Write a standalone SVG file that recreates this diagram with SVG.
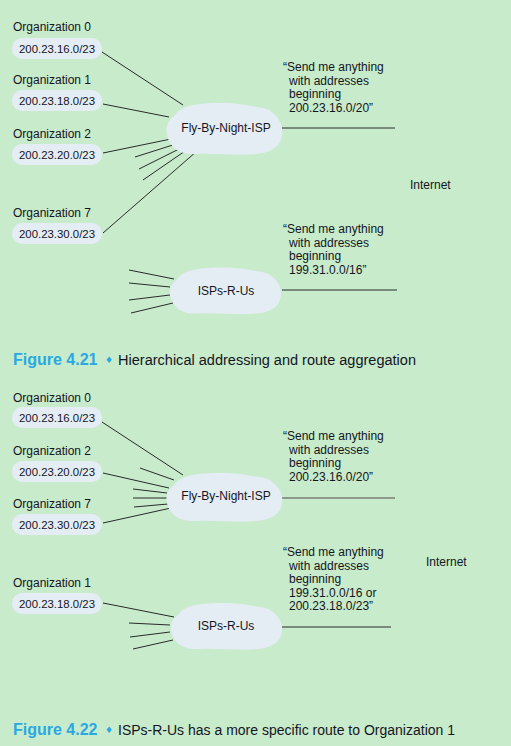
<svg xmlns="http://www.w3.org/2000/svg" width="511" height="746" viewBox="0 0 511 746">
<defs>
<style>
.t{font-family:"Liberation Sans",Arial,sans-serif;font-size:12px;fill:#15151f}
.p{font-family:"Liberation Sans",Arial,sans-serif;font-size:11.4px;fill:#15151f}
.q{font-family:"Liberation Sans",Arial,sans-serif;font-size:12px;fill:#15151f}
.pill{fill:#e4edf3}
.cloud{fill:#e4edf3}
.ln{stroke:#2a2a2a;stroke-width:1;fill:none}
.cap{font-family:"Liberation Sans",Arial,sans-serif;font-size:15.5px;fill:#15151f}
.fig{font-family:"Liberation Sans",Arial,sans-serif;font-size:16px;font-weight:bold;fill:#2aa8e2}
.dia{font-family:"DejaVu Sans",sans-serif;font-size:9px;fill:#2aa8e2}
</style>
<path id="cl" d="M -50,-14 C -44,-24 -25,-26 -5,-26 C 12,-26 22,-24 32,-22 C 40,-21 44,-20 48,-16 C 56,-9 58,-2 57,6 C 56,15 50,23 32,25 C 12,27 -10,24 -28,25 C -44,26 -55,20 -58,6 C -60,-4 -56,-9 -50,-14 Z"/>
</defs>
<rect width="511" height="746" fill="#c7ebcb"/>

<g id="connectors">
<line class="ln" x1="102" y1="52" x2="183" y2="105"/>
<line class="ln" x1="103" y1="104" x2="169" y2="117"/>
<line class="ln" x1="103" y1="153" x2="171" y2="139"/>
<line class="ln" x1="135" y1="157" x2="176" y2="144"/>
<line class="ln" x1="139" y1="169" x2="183" y2="147"/>
<line class="ln" x1="143" y1="180" x2="188" y2="149"/>
<line class="ln" x1="103" y1="233" x2="197" y2="151"/>
<line class="ln" x1="282" y1="128" x2="395" y2="128"/>
<line class="ln" x1="129" y1="270" x2="174" y2="279"/>
<line class="ln" x1="129" y1="283" x2="170" y2="287"/>
<line class="ln" x1="129" y1="300" x2="170" y2="295"/>
<line class="ln" x1="131" y1="313" x2="173" y2="303"/>
<line class="ln" x1="282" y1="290" x2="397" y2="290"/>

<line class="ln" x1="102" y1="422" x2="183" y2="475"/>
<line class="ln" x1="140" y1="468" x2="174" y2="480"/>
<line class="ln" x1="103" y1="473" x2="169" y2="488"/>
<line class="ln" x1="133" y1="489" x2="167" y2="493"/>
<line class="ln" x1="133" y1="498" x2="167" y2="498"/>
<line class="ln" x1="134" y1="507" x2="168" y2="504"/>
<line class="ln" x1="103" y1="523" x2="171" y2="508"/>
<line x1="282" y1="498" x2="395" y2="498" stroke="#8c9a8c" stroke-width="2"/>
<line class="ln" x1="103" y1="603" x2="174" y2="617"/>
<line class="ln" x1="129" y1="623" x2="170" y2="625"/>
<line class="ln" x1="130" y1="637" x2="170" y2="632"/>
<line class="ln" x1="133" y1="649" x2="173" y2="640"/>
<line class="ln" x1="282" y1="627" x2="391" y2="627"/>
</g>

<g id="org0-top">
<text class="t" x="13" y="31">Organization 0</text>
<rect class="pill" x="12" y="38" width="90" height="21" rx="10"/>
<text class="p" x="19" y="53">200.23.16.0/23</text>
</g>
<g id="org1-top">
<text class="t" x="13" y="84">Organization 1</text>
<rect class="pill" x="12" y="90" width="90" height="21" rx="10"/>
<text class="p" x="19" y="105">200.23.18.0/23</text>
</g>
<g id="org2-top">
<text class="t" x="13" y="138">Organization 2</text>
<rect class="pill" x="12" y="144" width="90" height="21" rx="10"/>
<text class="p" x="19" y="159">200.23.20.0/23</text>
</g>
<g id="org7-top">
<text class="t" x="13" y="217">Organization 7</text>
<rect class="pill" x="12" y="223" width="90" height="21" rx="10"/>
<text class="p" x="19" y="238">200.23.30.0/23</text>
</g>

<g id="fbn-top">
<use href="#cl" class="cloud" transform="translate(225,129)"/>
<text class="t" x="226" y="132" text-anchor="middle" font-size="11.5">Fly-By-Night-ISP</text>
</g>
<g id="isps-top">
<use href="#cl" class="cloud" transform="translate(226,291) scale(0.96,0.9)"/>
<text class="t" x="226" y="295" text-anchor="middle">ISPs-R-Us</text>
</g>

<g id="quote1-top">
<text class="q" x="283" y="71">“Send me anything</text>
<text class="q" x="289" y="84.5">with addresses</text>
<text class="q" x="289" y="98">beginning</text>
<text class="q" x="289" y="111.5">200.23.16.0/20”</text>
</g>
<g id="internet-top"><text class="t" x="410" y="189">Internet</text></g>
<g id="quote2-top">
<text class="q" x="283" y="233">“Send me anything</text>
<text class="q" x="289" y="246.5">with addresses</text>
<text class="q" x="289" y="260">beginning</text>
<text class="q" x="289" y="273.5">199.31.0.0/16”</text>
</g>

<g id="caption1">
<text class="fig" x="13" y="365">Figure 4.21</text>
<text class="dia" x="105" y="363">♦</text>
<text class="cap" x="118" y="365" textLength="298" lengthAdjust="spacingAndGlyphs">Hierarchical addressing and route aggregation</text>
</g>

<g id="org0-bot">
<text class="t" x="13" y="402">Organization 0</text>
<rect class="pill" x="12" y="407" width="90" height="21" rx="10"/>
<text class="p" x="19" y="422">200.23.16.0/23</text>
</g>
<g id="org2-bot">
<text class="t" x="13" y="455">Organization 2</text>
<rect class="pill" x="12" y="461" width="90" height="21" rx="10"/>
<text class="p" x="19" y="476">200.23.20.0/23</text>
</g>
<g id="org7-bot">
<text class="t" x="13" y="508">Organization 7</text>
<rect class="pill" x="12" y="514" width="90" height="21" rx="10"/>
<text class="p" x="19" y="529">200.23.30.0/23</text>
</g>
<g id="org1-bot">
<text class="t" x="13" y="587">Organization 1</text>
<rect class="pill" x="12" y="593" width="90" height="21" rx="10"/>
<text class="p" x="19" y="608">200.23.18.0/23</text>
</g>

<g id="fbn-bot">
<use href="#cl" class="cloud" transform="translate(225,497.5) scale(1,0.94)"/>
<text class="t" x="226" y="500" text-anchor="middle" font-size="11.5">Fly-By-Night-ISP</text>
</g>
<g id="isps-bot">
<use href="#cl" class="cloud" transform="translate(227,626.5) scale(0.96,0.9)"/>
<text class="t" x="226" y="630" text-anchor="middle">ISPs-R-Us</text>
</g>

<g id="quote1-bot">
<text class="q" x="283" y="440">“Send me anything</text>
<text class="q" x="289" y="453.5">with addresses</text>
<text class="q" x="289" y="467">beginning</text>
<text class="q" x="289" y="480.5">200.23.16.0/20”</text>
</g>
<g id="internet-bot"><text class="t" x="426" y="566">Internet</text></g>
<g id="quote2-bot">
<text class="q" x="283" y="556">“Send me anything</text>
<text class="q" x="289" y="569.5">with addresses</text>
<text class="q" x="289" y="583">beginning</text>
<text class="q" x="289" y="596.5">199.31.0.0/16 or</text>
<text class="q" x="289" y="610">200.23.18.0/23”</text>
</g>

<g id="caption2">
<text class="fig" x="13" y="735">Figure 4.22</text>
<text class="dia" x="105" y="733">♦</text>
<text class="cap" x="118" y="735" textLength="337" lengthAdjust="spacingAndGlyphs">ISPs-R-Us has a more specific route to Organization 1</text>
</g>
</svg>
